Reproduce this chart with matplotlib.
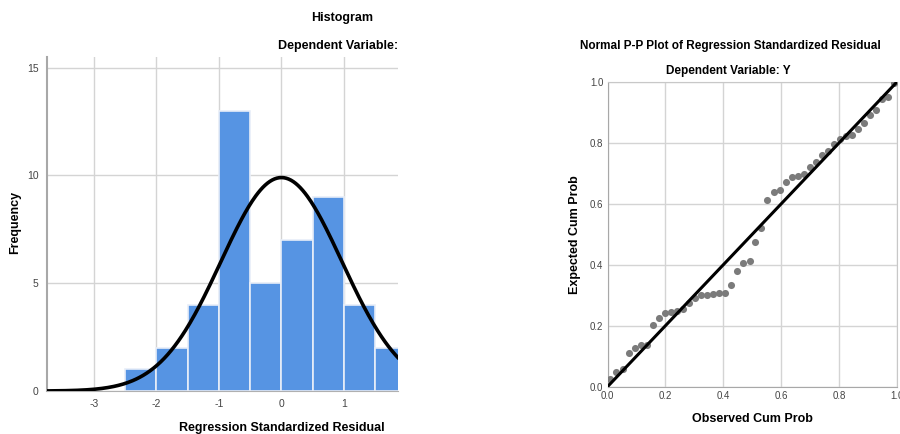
import numpy as np
import matplotlib.pyplot as plt

plt.rcParams['font.family'] = ['Liberation Sans', 'DejaVu Sans']
plt.rcParams['axes.unicode_minus'] = False

# histogram of standardized residuals
bin_left = [-2.5, -2.0, -1.5, -1.0, -0.5, 0.0, 0.5, 1.0, 1.5]
bin_count = [1, 2, 4, 13, 5, 7, 9, 4, 2]
bin_width = 0.5
n_cases = 48
res_mean = 0.0
res_sd = 0.967

# P-P plot points
observed_cum = [0.010, 0.031, 0.052, 0.073, 0.094, 0.115, 0.135, 0.156,
                0.177, 0.198, 0.219, 0.240, 0.260, 0.281, 0.302, 0.323,
                0.344, 0.365, 0.385, 0.406, 0.427, 0.448, 0.469, 0.490,
                0.510, 0.531, 0.552, 0.573, 0.594, 0.615, 0.635, 0.656,
                0.677, 0.698, 0.719, 0.740, 0.760, 0.781, 0.802, 0.823,
                0.844, 0.865, 0.885, 0.906, 0.927, 0.948, 0.969, 0.990]
expected_cum = [0.024, 0.049, 0.057, 0.109, 0.126, 0.138, 0.138, 0.201,
                0.224, 0.240, 0.245, 0.248, 0.256, 0.273, 0.292, 0.301,
                0.301, 0.304, 0.306, 0.306, 0.333, 0.380, 0.404, 0.413,
                0.475, 0.519, 0.612, 0.637, 0.644, 0.671, 0.687, 0.691,
                0.697, 0.719, 0.737, 0.760, 0.773, 0.795, 0.813, 0.822,
                0.826, 0.845, 0.863, 0.892, 0.907, 0.943, 0.948, 0.997]

grid_col = '#d4d4d4'
tick_col = '#444444'

fig = plt.figure(figsize=(9, 4.34), dpi=100)

# ---- histogram
ax1 = fig.add_axes([0.052, 0.099, 0.390, 0.770])
ax1.bar(bin_left, bin_count, width=bin_width, align='edge',
        color='#5694e3', edgecolor='#e8eef8', linewidth=1.2, zorder=2)
xs = np.linspace(-3.75, 1.86, 300)
curve = n_cases * bin_width * np.exp(-0.5 * ((xs - res_mean) / res_sd) ** 2) / (res_sd * np.sqrt(2 * np.pi))
ax1.plot(xs, curve, color='black', lw=2.6, zorder=3)
ax1.set_xlim(-3.75, 1.86)
ax1.set_ylim(0, 15.5)
ax1.set_xticks([-3, -2, -1, 0, 1])
ax1.set_yticks([0, 5, 10, 15])
ax1.grid(True, color=grid_col, lw=1, zorder=0)
ax1.set_axisbelow(True)
for s in ['top', 'right']:
    ax1.spines[s].set_visible(False)
ax1.spines['left'].set_color('#a8a8a8')
ax1.spines['left'].set_linewidth(1.5)
ax1.spines['bottom'].set_color('#b0b0b0')
ax1.tick_params(length=0, labelsize=7.5, colors=tick_col, pad=6)

fig.text(342/900, 1 - 18/434, 'Histogram', ha='center', va='center',
         fontsize=9, fontweight='bold')
fig.text(398/900, 1 - 46/434, 'Dependent Variable:', ha='right', va='center',
         fontsize=9, fontweight='bold')
fig.text(282/900, 1 - 428/434, 'Regression Standardized Residual', ha='center',
         va='center', fontsize=9, fontweight='bold')
fig.text(15/900, 1 - 222/434, 'Frequency', ha='center', va='center',
         rotation=90, fontsize=9, fontweight='bold')

# ---- P-P plot
ax2 = fig.add_axes([0.675, 0.109, 0.322, 0.703])
ax2.scatter(observed_cum, expected_cum, s=26, color='#7b7b7b', zorder=3,
            linewidths=0)
ax2.plot([0, 1], [0, 1], color='black', lw=2.2, zorder=4)
ax2.set_xlim(0, 1)
ax2.set_ylim(0, 1)
ticks = [0.0, 0.2, 0.4, 0.6, 0.8, 1.0]
ax2.set_xticks(ticks)
ax2.set_yticks(ticks)
ax2.set_xticklabels(['%.1f' % t for t in ticks])
ax2.set_yticklabels(['%.1f' % t for t in ticks])
ax2.grid(True, color=grid_col, lw=1, zorder=0)
ax2.set_axisbelow(True)
for s in ax2.spines.values():
    s.set_color('#c8c8c8')
ax2.spines['left'].set_color('#a8a8a8')
ax2.spines['bottom'].set_color('#a8a8a8')
ax2.tick_params(length=0, labelsize=7, colors=tick_col, pad=3)

fig.text(730/900, 1 - 46/434, 'Normal P-P Plot of Regression Standardized Residual',
         ha='center', va='center', fontsize=8.5, fontweight='bold')
fig.text(728/900, 1 - 71/434, 'Dependent Variable: Y', ha='center', va='center',
         fontsize=8.5, fontweight='bold')
fig.text(752/900, 1 - 419/434, 'Observed Cum Prob', ha='center', va='center',
         fontsize=9, fontweight='bold')
fig.text(575/900, 1 - 235/434, 'Expected Cum Prob', ha='center', va='center',
         rotation=90, fontsize=9, fontweight='bold')

fig.savefig('out.png', dpi=100)
